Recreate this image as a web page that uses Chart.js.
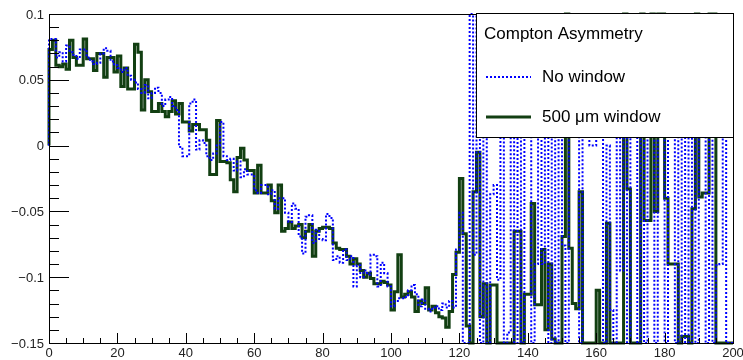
<!DOCTYPE html>
<html>
<head>
<meta charset="utf-8">
<script src="https://cdn.jsdelivr.net/npm/chart.js@4/dist/chart.umd.min.js"></script>
<style>
  html, body { margin: 0; padding: 0; background: #fff; }
</style>
</head>
<body>
<canvas id="myChart" width="743" height="360"></canvas>
<script>
// histogram: 200 bins of width 1 from 0 to 200
const binStart = 0;
const binWidth = 1;

const noWindow = [
  0.075, 0.081, 0.081, 0.067, 0.071, 0.064, 0.076, 0.071, 0.069, 0.066,
  0.073, 0.073, 0.067, 0.064, 0.062, 0.063, 0.070, 0.074, 0.072, 0.064,
  0.061, 0.059, 0.056, 0.059, 0.053, 0.050, 0.048, 0.043, 0.040, 0.046,
  0.036, 0.040, 0.044, 0.040, 0.030, 0.035, 0.037, 0.030, 0.027, -0.001,
  -0.008, -0.008, 0.032, 0.035, -0.003, 0.004, 0.002, -0.008, -0.011, -0.006,
  0.000, 0.018, -0.008, -0.011, -0.010, -0.019, -0.012, -0.024, -0.018, -0.022,
  -0.022, -0.034, -0.036, -0.030, -0.030, -0.037, -0.034, -0.048, -0.040, -0.040,
  -0.051, -0.058, -0.044, -0.048, -0.069, -0.082, -0.054, -0.053, -0.074, -0.064,
  -0.071, -0.072, -0.052, -0.055, -0.087, -0.084, -0.089, -0.079, -0.087, -0.084,
  -0.107, -0.091, -0.100, -0.095, -0.098, -0.083, -0.084, -0.107, -0.089, -0.097,
  -0.107, -0.122, -0.118, -0.116, -0.116, -0.115, -0.110, -0.106, -0.113, -0.122,
  -0.117, -0.124, -0.126, -0.123, -0.122, -0.125, -0.120, -0.123, -0.118, -0.123,
  -0.079, -0.051, -0.15, -0.15, 0.1, -0.083, 0.1, -0.15, 0.1, -0.15,
  -0.037, -0.030, -0.102, 0.1, -0.15, -0.142, 0.1, -0.15, 0.1, -0.15,
  0.1, 0.1, -0.15, -0.090, 0.1, -0.090, 0.1, -0.15, 0.1, -0.15,
  0.1, -0.076, -0.15, 0.1, 0.1, 0.1, -0.15, 0.1, 0.1, 0.000,
  0.000, 0.1, 0.1, -0.15, 0.000, -0.125, -0.15, 0.1, -0.095, 0.1,
  -0.15, 0.1, 0.1, -0.15, 0.1, -0.15, 0.1, 0.1, -0.15, 0.1,
  0.1, -0.15, 0.1, 0.1, -0.15, 0.1, -0.15, 0.1, -0.15, 0.1,
  -0.15, 0.1, 0.1, -0.15, 0.1, -0.15, -0.091, -0.090, 0.1, -0.15
];

const window500 = [
  0.073, 0.073, 0.080, 0.061, 0.060, 0.062, 0.058, 0.080, 0.067, 0.061,
  0.061, 0.081, 0.066, 0.066, 0.057, 0.070, 0.070, 0.052, 0.067, 0.067,
  0.056, 0.068, 0.045, 0.059, 0.043, 0.043, 0.077, 0.071, 0.027, 0.050,
  0.041, 0.026, 0.026, 0.032, 0.026, 0.022, 0.026, 0.034, 0.024, 0.032,
  0.018, 0.018, 0.011, 0.016, 0.016, 0.012, 0.012, 0.004, -0.022, -0.022,
  0.019, -0.012, -0.012, -0.013, -0.026, -0.035, -0.009, -0.002, -0.011, -0.019,
  -0.019, -0.036, -0.015, -0.036, -0.036, -0.030, -0.042, -0.051, -0.030, -0.065,
  -0.063, -0.058, -0.063, -0.061, -0.060, -0.070, -0.065, -0.060, -0.084, -0.065,
  -0.063, -0.062, -0.062, -0.063, -0.074, -0.078, -0.079, -0.079, -0.084, -0.090,
  -0.086, -0.090, -0.095, -0.100, -0.097, -0.101, -0.105, -0.105, -0.103, -0.104,
  -0.106, -0.125, -0.111, -0.083, -0.115, -0.113, -0.111, -0.115, -0.126, -0.118,
  -0.120, -0.108, -0.125, -0.122, -0.127, -0.130, -0.131, -0.138, -0.126, -0.098,
  -0.081, -0.025, -0.067, -0.137, -0.15, -0.035, -0.005, -0.130, -0.105, -0.15,
  -0.106, -0.106, -0.15, -0.15, -0.15, -0.15, -0.15, -0.065, -0.065, -0.15,
  -0.113, -0.113, -0.044, -0.121, -0.121, -0.079, -0.140, -0.090, -0.147, -0.15,
  -0.15, -0.069, 0.1, -0.078, -0.120, -0.124, -0.035, -0.15, -0.15, -0.15,
  -0.15, -0.110, -0.15, -0.15, -0.059, -0.15, -0.15, -0.15, -0.15, 0.1,
  -0.033, -0.15, -0.15, -0.15, 0.1, -0.057, -0.057, 0.1, -0.050, 0.1,
  0.1, -0.040, -0.090, -0.090, -0.090, -0.15, -0.145, -0.145, -0.15, -0.048,
  0.1, -0.039, -0.036, -0.036, 0.1, 0.1, -0.15, -0.15, -0.15, -0.15
];

const seriesNames = ["No window", "500 \u03bcm window"];
const legendTitle = "Compton Asymmetry";

const xMin = 0, xMax = 200;
const yMin = -0.15, yMax = 0.1;
const xTickValues = [0, 20, 40, 60, 80, 100, 120, 140, 160, 180, 200];
const xTickLabels = ["0", "20", "40", "60", "80", "100", "120", "140", "160", "180", "200"];
const yTickValues = [0.1, 0.05, 0, -0.05, -0.1, -0.15];
const yTickLabels = ["0.1", "0.05", "0", "\u22120.05", "\u22120.1", "\u22120.15"];

const FONT = "'Liberation Sans', Arial, sans-serif";

function histPoints(values) {
  let pts = [{ x: binStart, y: 0 }];
  values.forEach((v, i) => {
    pts.push({ x: binStart + i * binWidth, y: v });
  });
  pts.push({ x: binStart + values.length * binWidth, y: values[values.length - 1] });
  return pts;
}

// ROOT-like frame, inward ticks and labels
const rootAxes = {
  id: "rootAxes",
  afterDatasetsDraw(chart) {
    const ctx = chart.ctx;
    const a = chart.chartArea;
    const xs = chart.scales.x;
    const ys = chart.scales.y;
    ctx.save();
    ctx.strokeStyle = "#000";
    ctx.lineWidth = 1;
    ctx.strokeRect(Math.round(a.left) + 0.5, Math.round(a.top) + 0.5,
      Math.round(a.right - a.left), Math.round(a.bottom - a.top));

    ctx.beginPath();
    // y: minor every 0.01, major every 0.05
    for (let k = 0; k <= 25; k++) {
      const v = yMin + k * 0.01;
      const py = Math.round(ys.getPixelForValue(v)) + 0.5;
      const len = k % 5 === 0 ? 20 : 10;
      ctx.moveTo(a.left, py);
      ctx.lineTo(a.left + len, py);
    }
    // x: minor every 5, major every 20
    for (let k = 0; k <= 40; k++) {
      const v = xMin + k * 5;
      const px = Math.round(xs.getPixelForValue(v)) + 0.5;
      const len = k % 4 === 0 ? 10 : 5;
      ctx.moveTo(px, a.bottom);
      ctx.lineTo(px, a.bottom - len);
    }
    ctx.stroke();

    ctx.fillStyle = "#222";
    ctx.font = "13px " + FONT;
    ctx.textAlign = "right";
    ctx.textBaseline = "middle";
    yTickValues.forEach((v, i) => {
      ctx.fillText(yTickLabels[i], a.left - 5, ys.getPixelForValue(v) + 1);
    });
    ctx.textAlign = "center";
    xTickValues.forEach((v, i) => {
      ctx.fillText(xTickLabels[i], xs.getPixelForValue(v), a.bottom + 10);
    });
    ctx.restore();
  },
};

// legend box in the top right corner
const rootLegend = {
  id: "rootLegend",
  afterDraw(chart) {
    const ctx = chart.ctx;
    const a = chart.chartArea;
    const x1 = 476, y1 = 13, x2 = Math.round(a.right), y2 = 137;
    ctx.save();
    ctx.fillStyle = "#fff";
    ctx.fillRect(x1, y1, x2 - x1, y2 - y1);
    ctx.strokeStyle = "#000";
    ctx.lineWidth = 1;
    ctx.strokeRect(x1 + 0.5, y1 + 0.5, x2 - x1, y2 - y1);

    ctx.fillStyle = "#000";
    ctx.font = "17px " + FONT;
    ctx.textAlign = "left";
    ctx.textBaseline = "middle";
    ctx.fillText(legendTitle, 484, 34);

    const rows = [77, 117];
    chart.data.datasets.forEach((ds, i) => {
      ctx.beginPath();
      ctx.strokeStyle = ds.borderColor;
      ctx.lineWidth = ds.borderWidth;
      ctx.setLineDash(ds.borderDash || []);
      ctx.moveTo(486, rows[i]);
      ctx.lineTo(531, rows[i]);
      ctx.stroke();
      ctx.setLineDash([]);
      ctx.fillStyle = "#000";
      ctx.fillText(seriesNames[i], 542, rows[i]);
    });
    ctx.restore();
  },
};

new Chart(document.getElementById("myChart"), {
  type: "line",
  data: {
    datasets: [
      {
        label: seriesNames[0],
        data: histPoints(noWindow),
        borderColor: "#0000ff",
        borderWidth: 2,
        borderDash: [2, 2],
        stepped: "after",
        pointRadius: 0,
        fill: false,
        clip: 2,
        order: 0,
      },
      {
        label: seriesNames[1],
        data: histPoints(window500),
        borderColor: "#123f12",
        borderWidth: 3,
        stepped: "after",
        pointRadius: 0,
        fill: false,
        clip: 2,
        order: 1,
      },
    ],
  },
  options: {
    responsive: false,
    animation: false,
    devicePixelRatio: 1,
    layout: { padding: { left: 49, top: 14, right: 10, bottom: 17 } },
    plugins: {
      legend: { display: false },
      tooltip: { enabled: false },
    },
    scales: {
      x: { type: "linear", min: xMin, max: xMax, display: false },
      y: { type: "linear", min: yMin, max: yMax, display: false },
    },
  },
  plugins: [rootAxes, rootLegend],
});
</script>
</body>
</html>
